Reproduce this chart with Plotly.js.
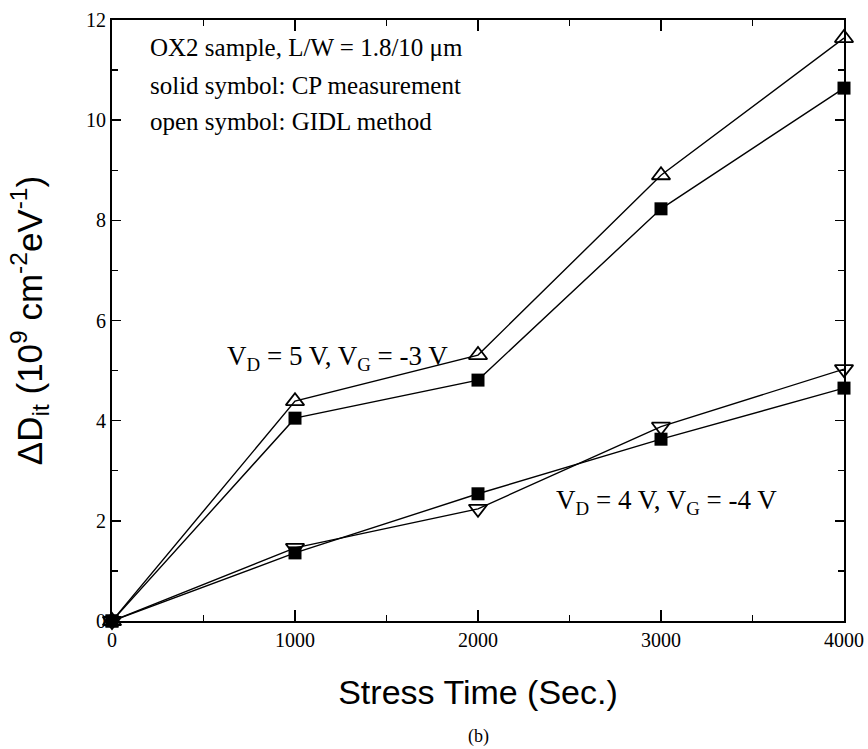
<!DOCTYPE html>
<html>
<head>
<meta charset="utf-8">
<script src="https://cdn.plot.ly/plotly-3.0.1.min.js"></script>
<style>html,body{margin:0;padding:0;background:#fff;}</style>
</head>
<body>
<div id="chart" style="width:868px;height:749px;"></div>
<script>
// Stress time (s)
const stressTime = [0, 1000, 2000, 3000, 4000];
// VD = 5 V, VG = -3 V
const cp_5_3   = [0, 4.05, 4.81, 8.23, 10.64];   // solid squares (CP measurement)
const gidl_5_3 = [0, 4.39, 5.31, 8.90, 11.64];   // open up-triangles (GIDL method)
// VD = 4 V, VG = -4 V
const cp_4_4   = [0, 1.36, 2.54, 3.63, 4.65];    // solid squares
const gidl_4_4 = [0, 1.46, 2.24, 3.88, 5.03];    // open down-triangles
const xTicks = [0, 1000, 2000, 3000, 4000];
const yTicks = [0, 2, 4, 6, 8, 10, 12];

const lineStyle = {color: '#000', width: 1.4};
const traces = [
  {x: stressTime, y: gidl_5_3, mode: 'lines+markers', line: lineStyle,
   marker: {symbol: 'triangle-up-open', size: 16, color: '#000', line: {width: 1.8, color: '#000'}}, cliponaxis: false},
  {x: stressTime, y: cp_5_3, mode: 'lines+markers', line: lineStyle,
   marker: {symbol: 'square', size: 13, color: '#000'}, cliponaxis: false},
  {x: stressTime, y: cp_4_4, mode: 'lines+markers', line: lineStyle,
   marker: {symbol: 'square', size: 13, color: '#000'}, cliponaxis: false},
  {x: stressTime, y: gidl_4_4, mode: 'lines+markers', line: lineStyle,
   marker: {symbol: 'triangle-down-open', size: 16, color: '#000', line: {width: 1.8, color: '#000'}}, cliponaxis: false}
];

const serif = 'Liberation Serif, Times New Roman, serif';
const sans = 'Liberation Sans, Arial, sans-serif';

const layout = {
  width: 868, height: 749,
  margin: {l: 112, r: 24, t: 20, b: 128},
  paper_bgcolor: '#fff', plot_bgcolor: '#fff',
  showlegend: false,
  xaxis: {
    range: [0, 4000], tickvals: xTicks, ticktext: xTicks.map(String),
    ticks: 'inside', ticklen: 11, tickwidth: 1.5, tickcolor: '#000',
    minor: {dtick: 500, tick0: 0, ticks: 'inside', ticklen: 6, tickwidth: 1.2, tickcolor: '#000'},
    showline: true, linecolor: '#000', linewidth: 2, mirror: 'allticks',
    showgrid: false, zeroline: false,
    tickfont: {family: serif, size: 20, color: '#000'},
    title: {text: 'Stress Time (Sec.)', font: {family: sans, size: 34, color: '#000'}, standoff: 30}
  },
  yaxis: {
    range: [0, 12], tickvals: yTicks, ticktext: yTicks.map(String),
    ticks: 'inside', ticklen: 9, tickwidth: 1.5, tickcolor: '#000',
    minor: {dtick: 1, tick0: 0, ticks: 'inside', ticklen: 6, tickwidth: 1.2, tickcolor: '#000'},
    showline: true, linecolor: '#000', linewidth: 2, mirror: 'allticks',
    showgrid: false, zeroline: false,
    tickfont: {family: serif, size: 20, color: '#000'},
    title: {text: 'ΔD<sub>it</sub> (10<sup>9</sup> cm<sup>-2</sup>eV<sup>-1</sup>)', font: {family: sans, size: 35, color: '#000'}, standoff: 33}
  },
  annotations: [
    {xref: 'x', yref: 'y', x: 195, y: 11.45, xanchor: 'left', yanchor: 'middle', showarrow: false,
     text: 'OX2 sample, L/W = 1.8/10 μm', font: {family: serif, size: 25, color: '#000'}},
    {xref: 'x', yref: 'y', x: 195, y: 10.7, xanchor: 'left', yanchor: 'middle', showarrow: false,
     text: 'solid symbol: CP measurement', font: {family: serif, size: 25, color: '#000'}},
    {xref: 'x', yref: 'y', x: 195, y: 9.97, xanchor: 'left', yanchor: 'middle', showarrow: false,
     text: 'open symbol: GIDL method', font: {family: serif, size: 25, color: '#000'}},
    {xref: 'x', yref: 'y', x: 1230, y: 5.25, xanchor: 'center', yanchor: 'middle', showarrow: false,
     text: 'V<sub>D</sub> = 5 V, V<sub>G</sub> = -3 V', font: {family: serif, size: 27, color: '#000'}},
    {xref: 'x', yref: 'y', x: 3030, y: 2.38, xanchor: 'center', yanchor: 'middle', showarrow: false,
     text: 'V<sub>D</sub> = 4 V, V<sub>G</sub> = -4 V', font: {family: serif, size: 27, color: '#000'}},
    {xref: 'paper', yref: 'paper', x: 0.5, y: -0.193, xanchor: 'center', yanchor: 'middle', showarrow: false,
     text: '(b)', font: {family: serif, size: 18, color: '#000'}}
  ]
};

Plotly.newPlot('chart', traces, layout, {displayModeBar: false, staticPlot: true});
</script>
</body>
</html>
